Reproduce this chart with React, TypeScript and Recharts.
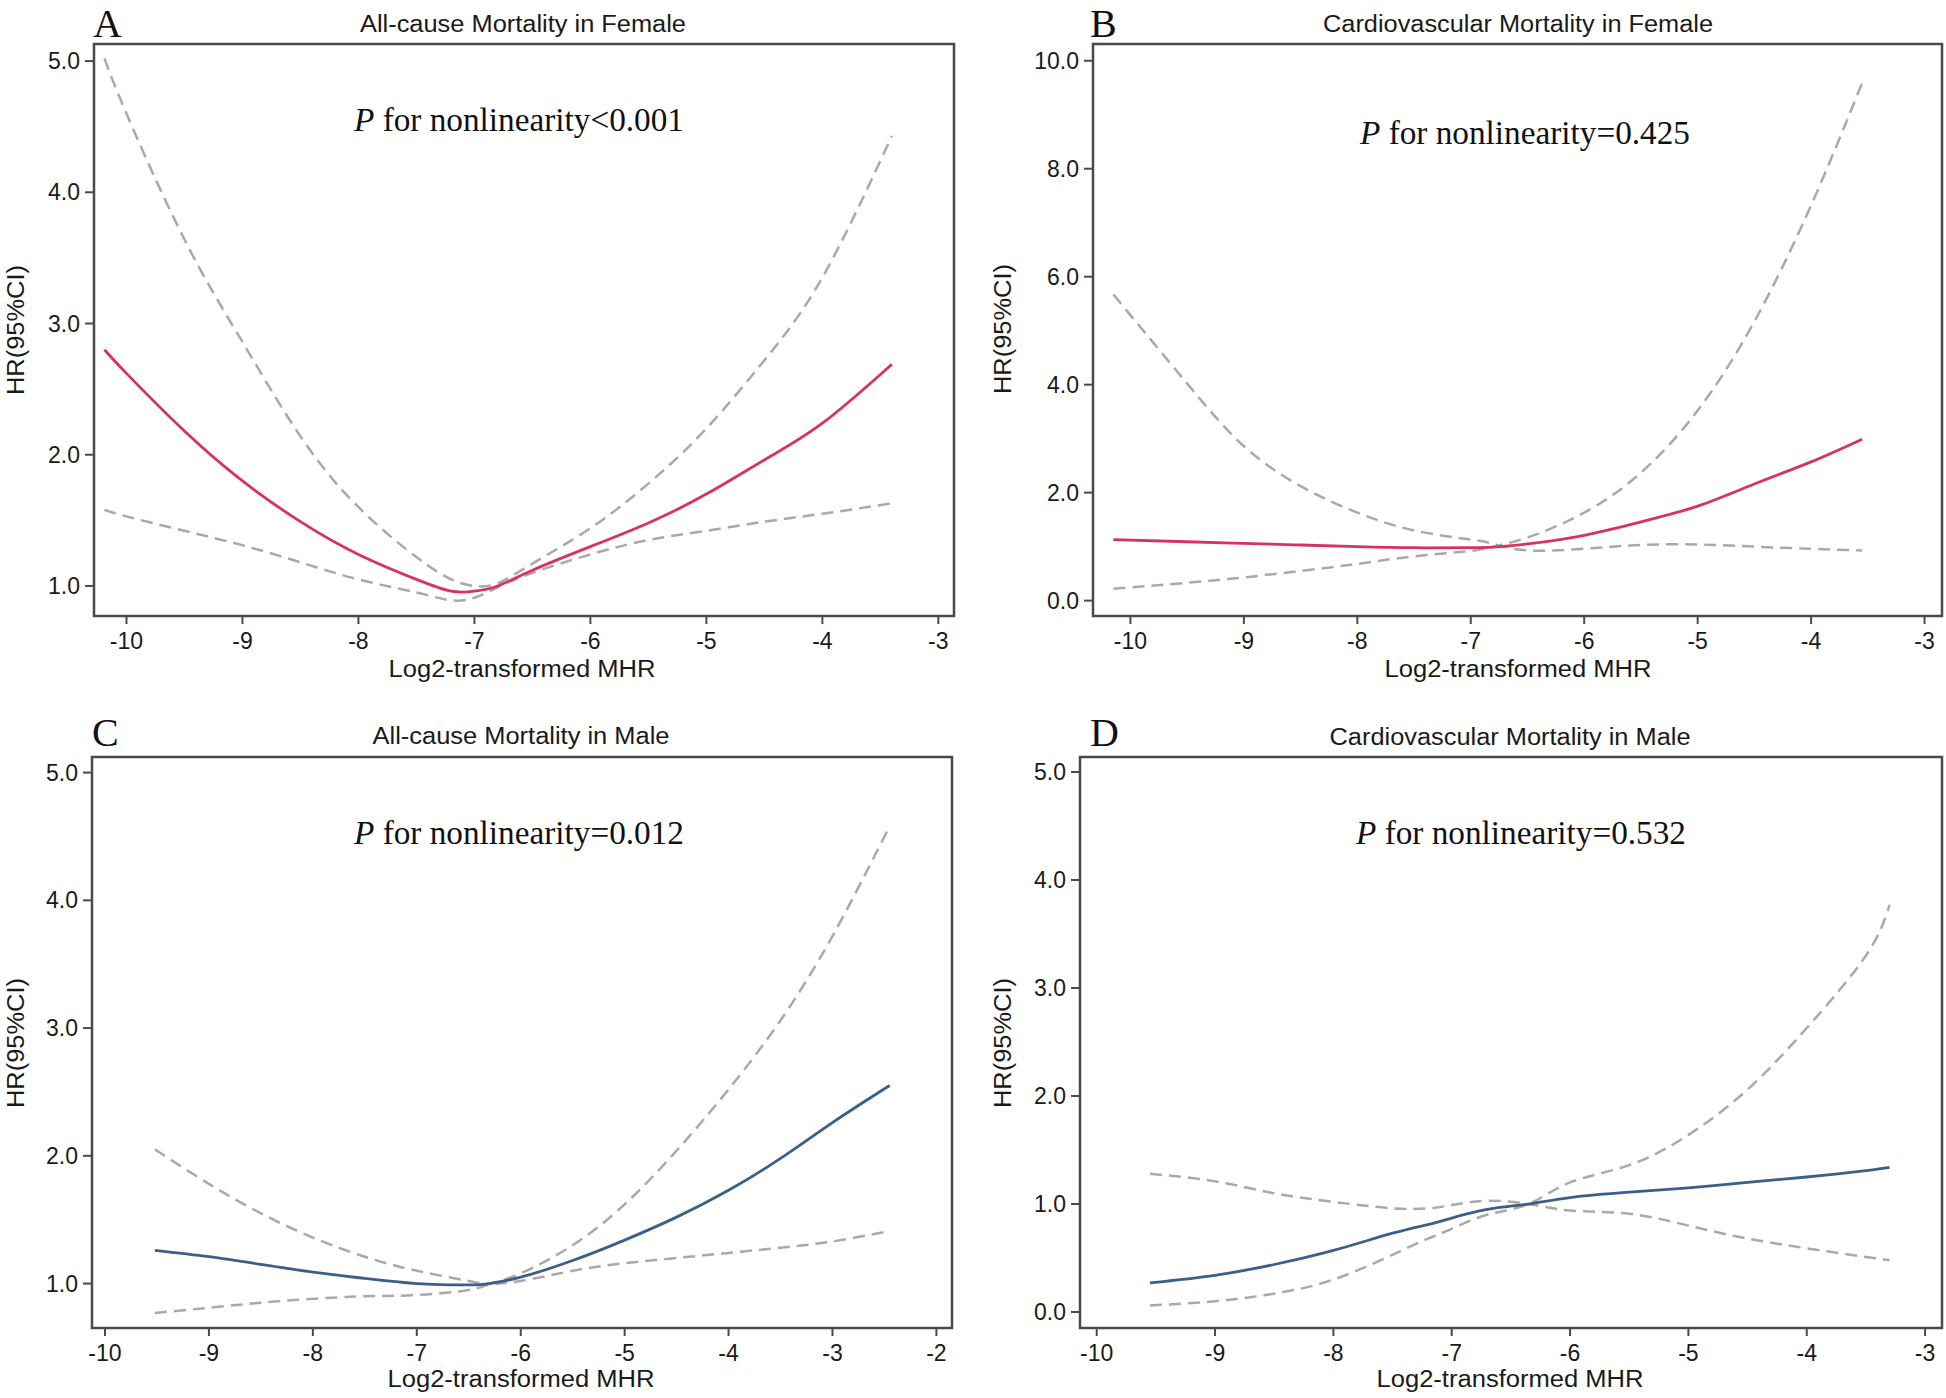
import { LineChart, Line, XAxis, YAxis, ReferenceArea } from "recharts";

// ---- Panel A: all-cause mortality, female ----
const aX = [-10.19, -10, -9.5, -9, -8.5, -8, -7.5, -7.2, -7, -6.8, -6.5, -6, -5.5, -5, -4.5, -4, -3.4];
const aHR = [2.8, 2.62, 2.18, 1.8, 1.49, 1.24, 1.05, 0.96, 0.96, 1.0, 1.12, 1.3, 1.48, 1.7, 1.96, 2.24, 2.69];
const aUpper = [5.02, 4.6, 3.64, 2.86, 2.14, 1.6, 1.22, 1.05, 1.0, 1.02, 1.17, 1.44, 1.78, 2.2, 2.72, 3.35, 4.43];
const aLower = [1.58, 1.53, 1.42, 1.31, 1.18, 1.05, 0.95, 0.89, 0.91, 0.99, 1.1, 1.24, 1.35, 1.42, 1.49, 1.55, 1.63];

// ---- Panel B: cardiovascular mortality, female ----
const bX = [-10.15, -9.5, -9, -8.5, -8, -7.5, -7, -6.8, -6.5, -6, -5.5, -5, -4.5, -4, -3.55];
const bHR = [1.13, 1.09, 1.06, 1.03, 1.0, 0.98, 0.98, 0.99, 1.05, 1.21, 1.46, 1.75, 2.16, 2.57, 2.99];
const bCi1 = [5.67, 4.02, 2.86, 2.12, 1.63, 1.3, 1.13, 1.05, 0.93, 0.96, 1.03, 1.04, 1.0, 0.96, 0.93];
const bCi2 = [0.22, 0.33, 0.43, 0.55, 0.68, 0.82, 0.92, 1.0, 1.17, 1.63, 2.37, 3.52, 5.17, 7.32, 9.59];

// ---- Panel C: all-cause mortality, male ----
const cX = [-9.52, -9, -8.5, -8, -7.5, -7, -6.5, -6.3, -6, -5.5, -5, -4.5, -4, -3.5, -3, -2.45];
const cHR = [1.26, 1.21, 1.15, 1.09, 1.04, 1.0, 0.99, 1.0, 1.05, 1.18, 1.34, 1.52, 1.73, 1.98, 2.26, 2.55];
const cUpper = [2.05, 1.78, 1.55, 1.36, 1.21, 1.1, 1.02, 1.0, 1.08, 1.3, 1.62, 2.04, 2.52, 3.06, 3.72, 4.58];
const cLower = [0.77, 0.81, 0.85, 0.88, 0.9, 0.91, 0.95, 0.99, 1.02, 1.1, 1.16, 1.2, 1.24, 1.28, 1.33, 1.41];

// ---- Panel D: cardiovascular mortality, male ----
const dX = [-9.55, -9, -8.5, -8, -7.5, -7.2, -7, -6.7, -6.35, -6, -5.5, -5, -4.5, -4, -3.5, -3.3];
const dHR = [0.27, 0.34, 0.44, 0.57, 0.73, 0.81, 0.87, 0.95, 1.0, 1.06, 1.11, 1.15, 1.2, 1.25, 1.31, 1.34];
const dCi1 = [1.28, 1.21, 1.1, 1.02, 0.96, 0.96, 0.99, 1.03, 1.0, 0.94, 0.91, 0.8, 0.68, 0.59, 0.51, 0.48];
const dCi2 = [0.06, 0.1, 0.17, 0.3, 0.53, 0.68, 0.77, 0.9, 1.0, 1.2, 1.36, 1.64, 2.06, 2.63, 3.3, 3.77];

const xTicksA = [-10, -9, -8, -7, -6, -5, -4, -3];
const xTicksC = [-10, -9, -8, -7, -6, -5, -4, -3, -2];
const yTicks5From1 = [1, 2, 3, 4, 5];
const yTicks10 = [0, 2, 4, 6, 8, 10];
const yTicks5From0 = [0, 1, 2, 3, 4, 5];

const titles = [
  "All-cause Mortality in Female",
  "Cardiovascular Mortality in Female",
  "All-cause Mortality in Male",
  "Cardiovascular Mortality in Male",
];
const pTexts = ["<0.001", "=0.425", "=0.012", "=0.532"];
const letters = ["A", "B", "C", "D"];

const RED = "#d7335c";
const BLUE = "#3b5f88";
const GRAY = "#a9a9a9";
const FRAME = "#4a4a4a";
const SANS = "'Liberation Sans', Arial, sans-serif";
const SERIF = "'Liberation Serif', 'Times New Roman', serif";

const rows = (xs: number[], hr: number[], c1: number[], c2: number[]) =>
  xs.map((x, i) => ({ x, hr: hr[i], c1: c1[i], c2: c2[i] }));

const panels = [
  {
    data: rows(aX, aHR, aUpper, aLower), color: RED,
    plot: { x0: 94, x1: 954, y0: 44, y1: 616 },
    xDomain: [-10.28, -2.865], yDomain: [0.771, 5.13], xTicks: xTicksA, yTicks: yTicks5From1,
  },
  {
    data: rows(bX, bHR, bCi1, bCi2), color: RED,
    plot: { x0: 1093, x1: 1942, y0: 44, y1: 616 },
    xDomain: [-10.33, -2.846], yDomain: [-0.285, 10.31], xTicks: xTicksA, yTicks: yTicks10,
  },
  {
    data: rows(cX, cHR, cUpper, cLower), color: BLUE,
    plot: { x0: 92, x1: 952, y0: 757, y1: 1328 },
    xDomain: [-10.125, -1.85], yDomain: [0.652, 5.122], xTicks: xTicksC, yTicks: yTicks5From1,
  },
  {
    data: rows(dX, dHR, dCi1, dCi2), color: BLUE,
    plot: { x0: 1080, x1: 1942, y0: 757, y1: 1328 },
    xDomain: [-10.141, -2.857], yDomain: [-0.148, 5.139], xTicks: xTicksA, yTicks: yTicks5From0,
  },
];

const Y_W = 100;
const X_H = 60;

function Panel({ p }: { p: (typeof panels)[number] }) {
  const { x0, x1, y0, y1 } = p.plot;
  const left = x0 - Y_W;
  const top = y0 - 10;
  const width = x1 + 4 - left;
  const height = y1 + X_H - top;
  return (
    <div style={{ position: "absolute", left, top }}>
      <LineChart
        width={width}
        height={height}
        data={p.data}
        margin={{ top: 10, right: 4, bottom: 0, left: 0 }}
      >
        <XAxis
          dataKey="x"
          type="number"
          domain={p.xDomain}
          ticks={p.xTicks}
          allowDataOverflow
          axisLine={false}
          tickSize={8}
          tickMargin={9}
          height={X_H}
          tickLine={{ stroke: FRAME, strokeWidth: 2 }}
          tick={{ fontSize: 23, fill: "#1a1a1a", fontFamily: SANS }}
        />
        <YAxis
          type="number"
          domain={p.yDomain}
          ticks={p.yTicks}
          allowDataOverflow
          axisLine={false}
          tickSize={9}
          tickMargin={5}
          width={Y_W}
          tickLine={{ stroke: FRAME, strokeWidth: 2 }}
          tick={{ fontSize: 23, fill: "#1a1a1a", fontFamily: SANS }}
          tickFormatter={(v: number) => v.toFixed(1)}
        />
        <ReferenceArea
          x1={p.xDomain[0]}
          x2={p.xDomain[1]}
          y1={p.yDomain[0]}
          y2={p.yDomain[1]}
          fill="none"
          fillOpacity={0}
          stroke={FRAME}
          strokeWidth={2.5}
        />
        <Line type="natural" dataKey="c1" stroke={GRAY} strokeWidth={2.5} strokeDasharray="12 7" dot={false} isAnimationActive={false} />
        <Line type="natural" dataKey="c2" stroke={GRAY} strokeWidth={2.5} strokeDasharray="12 7" dot={false} isAnimationActive={false} />
        <Line type="natural" dataKey="hr" stroke={p.color} strokeWidth={2.8} dot={false} isAnimationActive={false} />
      </LineChart>
    </div>
  );
}

// text placement: [letterX, letterBaseline, titleCx, titleBaseline, titleW, pCx, pBaseline, xLabCx, xLabBaseline, yLabCx, yLabCy]
const textPos = [
  [93, 37, 523, 32, 326, 519, 131, 522, 677, 16, 330],
  [1090, 37, 1518, 32, 390, 1525, 144, 1518, 677, 1003, 329],
  [92, 746, 521, 744, 297, 519, 844, 521, 1387, 16, 1043],
  [1090, 746, 1510, 745, 361, 1521, 844, 1510, 1387, 1003, 1043],
];

export default function App() {
  return (
    <div style={{ position: "absolute", left: 0, top: 0, width: 1946, height: 1398, background: "#fff" }}>
      {panels.map((p, i) => (
        <Panel key={i} p={p} />
      ))}
      <svg width={1946} height={1398} style={{ position: "absolute", left: 0, top: 0, pointerEvents: "none" }}>
        {textPos.map((t, i) => (
          <g key={i}>
            <text x={t[0]} y={t[1]} fontFamily={SERIF} fontSize={40} fill="#111">
              {letters[i]}
            </text>
            <text
              x={t[2]}
              y={t[3]}
              fontFamily={SANS}
              fontSize={23}
              fill="#1a1a1a"
              textAnchor="middle"
              textLength={t[4]}
              lengthAdjust="spacingAndGlyphs"
            >
              {titles[i]}
            </text>
            <text
              x={t[5]}
              y={t[6]}
              fontFamily={SERIF}
              fontSize={34}
              fill="#111"
              textAnchor="middle"
              textLength={330}
              lengthAdjust="spacingAndGlyphs"
            >
              <tspan fontStyle="italic">P</tspan> for nonlinearity{pTexts[i]}
            </text>
            <text
              x={t[7]}
              y={t[8]}
              fontFamily={SANS}
              fontSize={23}
              fill="#1a1a1a"
              textAnchor="middle"
              textLength={267}
              lengthAdjust="spacingAndGlyphs"
            >
              Log2-transformed MHR
            </text>
            <text
              x={t[9]}
              y={t[10]}
              fontFamily={SANS}
              fontSize={23}
              fill="#1a1a1a"
              textAnchor="middle"
              dominantBaseline="central"
              textLength={130}
              lengthAdjust="spacingAndGlyphs"
              transform={`rotate(-90 ${t[9]} ${t[10]})`}
            >
              HR(95%CI)
            </text>
          </g>
        ))}
      </svg>
    </div>
  );
}
